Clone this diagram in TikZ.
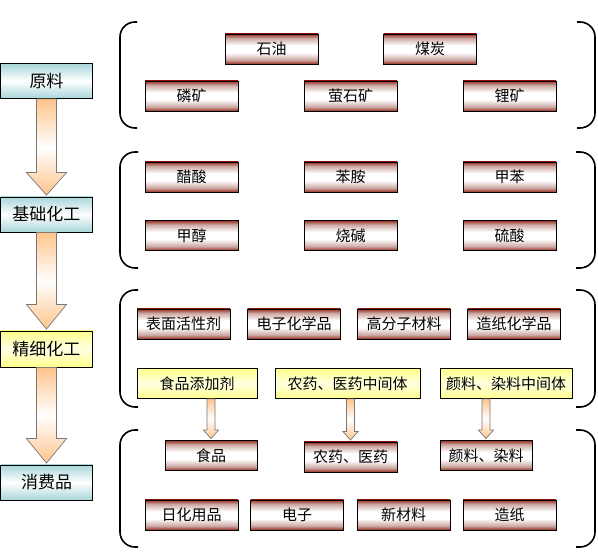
\documentclass[tikz,border=0pt]{standalone}
\usepackage{fontspec}
\setmainfont{Noto Sans CJK SC}
\usetikzlibrary{calc}

\definecolor{boxred}{RGB}{150,48,32}
\definecolor{boxpink}{RGB}{205,170,165}
\definecolor{boxcyan}{RGB}{168,214,218}
\definecolor{boxyellow}{RGB}{255,255,140}
\definecolor{arroworange}{RGB}{255,196,140}
\definecolor{arrowgray}{RGB}{120,120,120}

% red edges, white band in the middle
\pgfdeclareverticalshading{redband}{100bp}{color(0bp)=(boxred); color(25bp)=(boxred);
  color(32bp)=(boxpink); color(44bp)=(white); color(56bp)=(white);
  color(68bp)=(boxpink); color(75bp)=(boxred); color(100bp)=(boxred)}

% fat down arrow: style, from, to, half shaft, half head, head length
\newcommand{\fatarrow}[6]{%
  \path[#1] let \p1=(#2.south), \p2=(#3.north) in
    (\x2-#4,\y1) -- (\x2+#4,\y1) -- (\x2+#4,\y2+#6) -- (\x2+#5,\y2+#6)
    -- (\x2,\y2+1.5) -- (\x2-#5,\y2+#6) -- (\x2-#4,\y2+#6) -- cycle;}

\begin{document}
\begin{tikzpicture}[x=1pt,y=-1pt,
    box/.style={draw=black, line width=0.8pt, inner sep=0pt, minimum height=30,
      minimum width=93, font=\fontsize{15}{15}\selectfont},
    redbox/.style={box, shade, shading=redband},
    yellowbox/.style={box, top color=boxyellow, bottom color=boxyellow, middle color=boxyellow!25},
    stagebox/.style={box, minimum width=92, minimum height=35,
      top color=boxcyan, bottom color=boxcyan, middle color=white,
      font=\fontsize{17}{17}\selectfont},
    stageyellow/.style={stagebox, top color=boxyellow, bottom color=boxyellow, middle color=boxyellow!25},
    fatarrowstyle/.style={draw=arrowgray, line width=0.7pt,
      top color=arroworange, bottom color=arroworange, middle color=white},
    brace/.style={line width=1.6pt, rounded corners=15pt}]
  \useasboundingbox (0,0) rectangle (598,553);

  % stages on the left
  \node[stagebox] (yuanliao) at (46.5,81) {原料};
  \node[stagebox] (jichu) at (46.5,214.5) {基础化工};
  \node[stageyellow, minimum height=36] (jingxi) at (46.5,349) {精细化工};
  \node[stagebox] (xiaofei) at (46.5,482.5) {消费品};

  \fatarrow{fatarrowstyle}{yuanliao}{jichu}{10}{20}{24}
  \fatarrow{fatarrowstyle}{jichu}{jingxi}{10}{20}{26}
  \fatarrow{fatarrowstyle}{jingxi}{xiaofei}{10}{20}{26}

  % raw materials
  \node[redbox] (shiyou) at (271.5,49) {石油};
  \node[redbox] (meitan) at (430,49) {煤炭};
  \node[redbox] (linkuang) at (191.5,96) {磷矿};
  \node[redbox] (yingshi) at (350.5,96) {萤石矿};
  \node[redbox] (likuang) at (509.5,96) {锂矿};

  % basic chemicals
  \node[redbox] (cusuan) at (191.5,177) {醋酸};
  \node[redbox] (benan) at (350.5,177) {苯胺};
  \node[redbox] (jiaben) at (509.5,177) {甲苯};
  \node[redbox] (jiachun) at (191.5,235.5) {甲醇};
  \node[redbox] (shaojian) at (350.5,235.5) {烧碱};
  \node[redbox] (liusuan) at (509.5,235.5) {硫酸};

  % fine chemicals
  \node[redbox] (biaomian) at (183.5,324) {表面活性剂};
  \node[redbox] (dianzihx) at (294,324) {电子化学品};
  \node[redbox] (gaofenzi) at (404,324) {高分子材料};
  \node[redbox] (zaozhihx) at (514,324) {造纸化学品};
  \node[yellowbox, minimum width=120] (tianjia) at (197,383.5) {食品添加剂};
  \node[yellowbox, minimum width=145] (nongyaozj) at (347.5,383.5) {农药、医药中间体};
  \node[yellowbox, minimum width=132] (yanliaozj) at (506,383.5) {颜料、染料中间体};

  % consumer goods
  \node[redbox, minimum width=92] (shipin) at (211,455.5) {食品};
  \node[redbox] (nongyao) at (350.5,457) {农药、医药};
  \node[redbox, minimum width=92] (yanliao) at (486,455.5) {颜料、染料};
  \node[redbox] (rihua) at (191.5,515) {日化用品};
  \node[redbox] (dianzi) at (297,515) {电子};
  \node[redbox] (xincailiao) at (403.5,515) {新材料};
  \node[redbox] (zaozhi) at (509.5,515) {造纸};

  \fatarrow{fatarrowstyle}{tianjia}{shipin}{4}{7.5}{10}
  \fatarrow{fatarrowstyle}{nongyaozj}{nongyao}{4}{7.5}{10}
  \fatarrow{fatarrowstyle}{yanliaozj}{yanliao}{4}{7.5}{10}

  % braces
  \draw[brace] (137,22) -- (120,22) -- (120,128) -- (137,128);
  \draw[brace] (577,22) -- (595,22) -- (595,128) -- (577,128);
  \draw[brace] (138,152) -- (120,152) -- (120,268) -- (138,268);
  \draw[brace] (576,152) -- (595,152) -- (595,268) -- (576,268);
  \draw[brace] (138,290) -- (120,290) -- (120,407) -- (138,407);
  \draw[brace] (576,290) -- (595,290) -- (595,407) -- (576,407);
  \draw[brace] (138,430) -- (120,430) -- (120,547) -- (138,547);
  \draw[brace] (576,430) -- (595,430) -- (595,547) -- (576,547);
\end{tikzpicture}
\end{document}
